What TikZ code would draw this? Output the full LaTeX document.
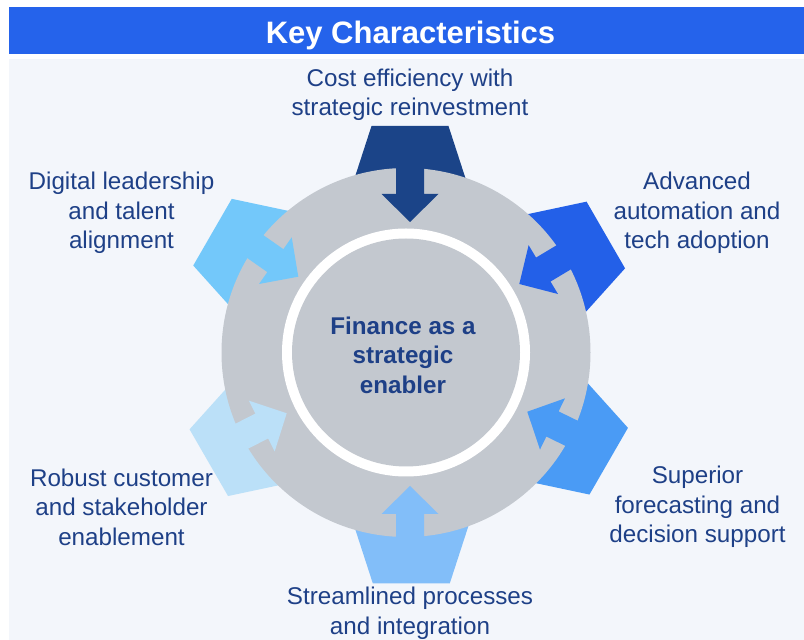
\documentclass[tikz,border=0pt]{standalone}
\usepackage{fontspec}
\setmainfont{Liberation Sans}
\definecolor{barc}{HTML}{2563EB}
\definecolor{panelc}{HTML}{F3F6FB}
\definecolor{greyc}{HTML}{C3C8CF}
\definecolor{txtc}{HTML}{1E4087}
\definecolor{cA}{HTML}{1B4488}
\definecolor{cB}{HTML}{2360E8}
\definecolor{cC}{HTML}{4A9BF5}
\definecolor{cD}{HTML}{82BEF9}
\definecolor{cE}{HTML}{BBE0F8}
\definecolor{cF}{HTML}{73C8FA}
\tikzset{
  lbl/.style={text=txtc, font=\fontsize{24.2}{29.5}\selectfont, align=center, inner sep=0pt},
  ttl/.style={text=white, font=\fontsize{31}{36}\selectfont\bfseries, inner sep=0pt, anchor=base},
  core/.style={text=txtc, font=\fontsize{24.2}{29.5}\selectfont\bfseries, align=center, inner sep=0pt}
}
\begin{document}
\begin{tikzpicture}[x=1pt,y=1pt]
\useasboundingbox (0,0) rectangle (804,640);
\fill[white] (0,0) rectangle (804,640);
\fill[panelc] (8.7,0) rectangle (804,580.7);
\fill[barc] (8.7,586) rectangle (804,633);
\node[ttl] (title) at (410.5,596.5) {Key Characteristics};
% pentagons
\foreach \mx/\my/\a/\c in {410/514/90/cA, 605.8/405/30/cB, 608.7/178.8/-30/cC, 411.3/56.7/-90/cD, 208.8/177.3/210/cE, 212.5/407.8/150/cF}
  \fill[\c, shift={(\mx,\my)}, rotate=\a] (0,38.5) -- (0,-38.5) -- (-73.2,-62.3) -- (-118.5,0) -- (-73.2,62.3) -- cycle;
% gear ring
\fill[greyc] (406,287.5) circle (184.5);
\fill[white] (406,287.5) circle (124);
\fill[greyc] (406,287.5) circle (114);
% arrows
\foreach \tx/\ty/\a/\c in {410/418/-90/cA, 519.3/356/211/cB, 527.3/228.3/154/cC, 410/154/90/cD, 286.7/226.7/27/cE, 298.3/363.3/-35/cF}
  \fill[\c, shift={(\tx,\ty)}, rotate=\a] (0,0) -- (-28,28.5) -- (-28,14) -- (-80,14) -- (-80,-14) -- (-28,-14) -- (-28,-28.5) -- cycle;
% labels
\node[core] (hub) at (403,285) {Finance as a\\strategic\\enabler};
\node[lbl] (cost) at (410,545.5) {Cost efficiency with\\strategic reinvestment};
\node[lbl] (auto) at (697,427) {Advanced\\automation and\\tech adoption};
\node[lbl] (digi) at (121.5,427) {Digital leadership\\and talent\\alignment};
\node[lbl] (robu) at (121.5,133) {Robust customer\\and stakeholder\\enablement};
\node[lbl] (supe) at (697.5,133) {Superior\\forecasting and\\decision support};
\node[lbl] (stre) at (410,27) {Streamlined processes\\and integration};
\end{tikzpicture}
\end{document}
